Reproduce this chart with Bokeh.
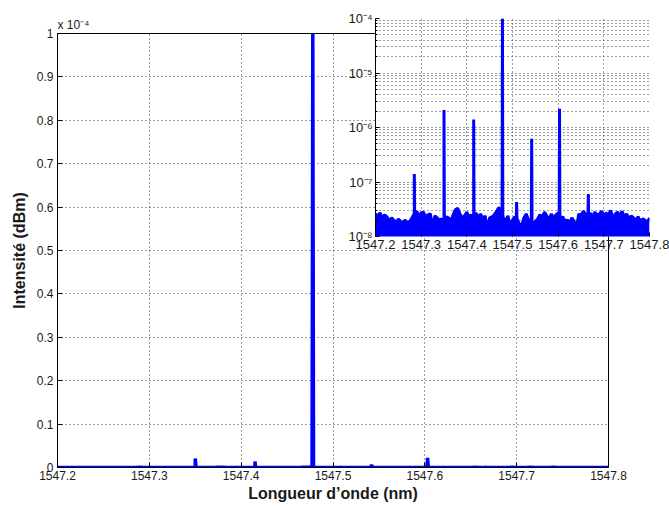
import numpy as np
from bokeh.plotting import figure
from bokeh.models import Range1d, FixedTicker, CustomJSTickFormatter, Title
from bokeh.layouts import column
from bokeh.embed import file_html
from bokeh.resources import INLINE

# ---------------- data ----------------
# noise floor, sampled every 0.005 nm from 1547.200 to 1547.800, in units of 1e-8
noise_1e8 = [
    2.6, 2.4, 2.7, 2.2, 2.5, 2.3, 1.9, 2.2, 2.0, 1.8,
    2.1, 1.9, 1.8, 2.0, 1.7, 1.9, 2.2, 2.6, 2.9, 2.4,
    2.7, 2.8, 2.3, 2.5, 2.6, 1.5, 2.4, 2.2, 2.0, 2.1,
    1.8, 2.3, 2.2, 1.9, 2.5, 3.1, 3.3, 2.6, 2.2, 2.4,
    2.8, 2.3, 2.5, 2.0, 2.7, 2.2, 2.6, 2.1, 2.4, 1.4,
    2.2, 2.3, 2.5, 2.9, 3.4, 2.9, 2.2, 1.9, 2.4, 1.6,
    2.0, 2.3, 2.1, 1.7, 1.6, 2.2, 2.6, 2.0, 1.8, 1.7,
    1.9, 2.1, 2.5, 2.3, 2.8, 2.4, 2.0, 2.6, 2.2, 2.5,
    2.7, 2.1, 2.3, 1.9, 2.0, 1.8, 2.2, 1.9, 1.4, 2.6,
    2.4, 2.9, 2.6, 2.2, 2.7, 2.3, 2.8, 2.5, 2.6, 2.9,
    2.4, 2.7, 2.5, 3.0, 2.2, 2.6, 2.8, 2.4, 2.9, 2.3,
    2.6, 2.1, 2.4, 2.2, 2.0, 2.3, 1.9, 2.1, 2.0, 1.8,
    2.2,
]
noise_start, noise_end = 1547.2, 1547.8

# spectral lines
peak_wl = [1547.285, 1547.350, 1547.415, 1547.478, 1547.509, 1547.542, 1547.603, 1547.666]
peak_val = [1.4e-7, 2.1e-6, 1.4e-6, 1.0e-4, 4.3e-8, 6.2e-7, 2.2e-6, 6.0e-8]

x_ticks = [1547.2, 1547.3, 1547.4, 1547.5, 1547.6, 1547.7, 1547.8]
y_ticks_lin = [0, 1e-5, 2e-5, 3e-5, 4e-5, 5e-5, 6e-5, 7e-5, 8e-5, 9e-5, 1e-4]
y_ticks_log = [1e-8, 1e-7, 1e-6, 1e-5, 1e-4]

# ---------------- assemble spectrum ----------------
noise_wl = np.linspace(noise_start, noise_end, len(noise_1e8))
floor = np.array(noise_1e8) * 1e-8
wl = list(noise_wl)
val = list(floor)
hw = 0.0008
for c, v in zip(peak_wl, peak_val):
    f = float(np.interp(c, noise_wl, floor))
    wl += [c - hw, c, c + hw]
    val += [f, v, f]
order = np.argsort(np.array(wl), kind="stable")
wl = np.array(wl)[order]
val = np.array(val)[order]

BLUE = "#0000ff"
FONT = "Liberation Sans"
TXT = "#1a1a1a"
GRID = "#3a3a3a"

H = 506
BL, BR = 57, 20   # common left/right borders (column aligns them)

# ---------------- main plot ----------------
p = figure(width=608 + BR, height=H, output_backend="svg", toolbar_location=None,
           x_range=Range1d(1547.2, 1547.8), y_range=Range1d(0, 1e-4),
           min_border_left=BL, min_border_right=BR, min_border_top=33, min_border_bottom=39)
p.outline_line_color = "black"
p.outline_line_width = 1
p.background_fill_color = "white"
p.border_fill_color = "white"

p.line(wl, val, line_width=3.5, color=BLUE)

lin_fmt = CustomJSTickFormatter(code="const v = Math.round(tick*1e5)/10; return v.toString();")
p.xaxis.ticker = FixedTicker(ticks=x_ticks)
p.yaxis.ticker = FixedTicker(ticks=y_ticks_lin)
p.yaxis.formatter = lin_fmt
for ax in p.axis:
    ax.major_tick_in = 5
    ax.major_tick_out = 0
    ax.minor_tick_line_color = None
    ax.axis_line_color = "black"
    ax.major_tick_line_color = "black"
    ax.major_label_text_font = FONT
    ax.major_label_text_font_size = "12px"
    ax.major_label_text_color = TXT
    ax.major_label_standoff = 4

p.yaxis.axis_label = "Intensité (dBm)"
p.yaxis.axis_label_text_font = FONT
p.yaxis.axis_label_text_font_size = "16px"
p.yaxis.axis_label_text_font_style = "bold"
p.yaxis.axis_label_text_color = TXT
p.yaxis.axis_label_standoff = 6

p.xaxis.major_label_standoff = 3
p.xaxis.axis_label = "Longueur d\u2019onde (nm)"
p.xaxis.axis_label_text_font = FONT
p.xaxis.axis_label_text_font_size = "16px"
p.xaxis.axis_label_text_font_style = "bold"
p.xaxis.axis_label_text_color = TXT
p.xaxis.axis_label_standoff = 2

for g in (p.xgrid, p.ygrid):
    g.grid_line_color = GRID
    g.grid_line_dash = "1 3"
    g.grid_line_width = 1
p.xgrid.ticker = FixedTicker(ticks=x_ticks)
p.ygrid.ticker = FixedTicker(ticks=y_ticks_lin)

p.title = Title(text="x 10\u207b\u2074", align="left", text_font=FONT, text_font_size="12px",
                text_font_style="normal", text_color=TXT, standoff=3, offset=0)

# ---------------- inset (log) ----------------
q_left, q_top = 375 - BL, 8
QW, QH = 649 + BR - q_left, 250
q = figure(width=QW, height=QH, output_backend="svg", toolbar_location=None,
           y_axis_type="log", x_range=Range1d(1547.2, 1547.8), y_range=Range1d(1e-8, 1e-4),
           min_border_left=BL, min_border_right=BR, min_border_top=10, min_border_bottom=22)
q.border_fill_color = None
q.background_fill_color = "white"
q.outline_line_color = None

q.varea(x=wl, y1=1e-9, y2=val, color=BLUE)
q.line(wl, val, line_width=3, color=BLUE)

minor_log = [k * d for d in y_ticks_log[:-1] for k in range(2, 10)]
log_fmt = CustomJSTickFormatter(code="""
const sup = {'-':'\u207b','0':'\u2070','1':'\u00b9','2':'\u00b2','3':'\u00b3','4':'\u2074','5':'\u2075','6':'\u2076','7':'\u2077','8':'\u2078','9':'\u2079'};
const e = Math.round(Math.log10(tick)).toString();
let s = '';
for (const ch of e) s += sup[ch];
return '10' + s;
""")
q.xaxis.ticker = FixedTicker(ticks=x_ticks)
q.yaxis.ticker = FixedTicker(ticks=y_ticks_log, minor_ticks=minor_log)
q.yaxis.formatter = log_fmt
for ax in q.axis:
    ax.major_tick_in = 4
    ax.major_tick_out = 0
    ax.minor_tick_in = 2
    ax.minor_tick_out = 0
    ax.major_label_text_font = FONT
    ax.major_label_text_font_size = "13px"
    ax.major_label_text_color = TXT
    ax.major_label_standoff = 3
    ax.axis_line_color = "black"
q.xaxis.axis_line_color = None
q.xaxis.minor_tick_line_color = None

q.xgrid.ticker = FixedTicker(ticks=x_ticks)
q.ygrid.ticker = FixedTicker(ticks=y_ticks_log, minor_ticks=minor_log)
for g in (q.xgrid, q.ygrid):
    g.grid_line_color = GRID
    g.grid_line_dash = "1 3"
q.ygrid.minor_grid_line_color = GRID
q.ygrid.minor_grid_line_dash = "1 3"

# overlap the inset onto the main plot with a negative top margin
q.margin = (-H + q_top, 0, H - q_top - QH, q_left)

layout = column(p, q)

open("out.html", "w").write(file_html(layout, INLINE))
